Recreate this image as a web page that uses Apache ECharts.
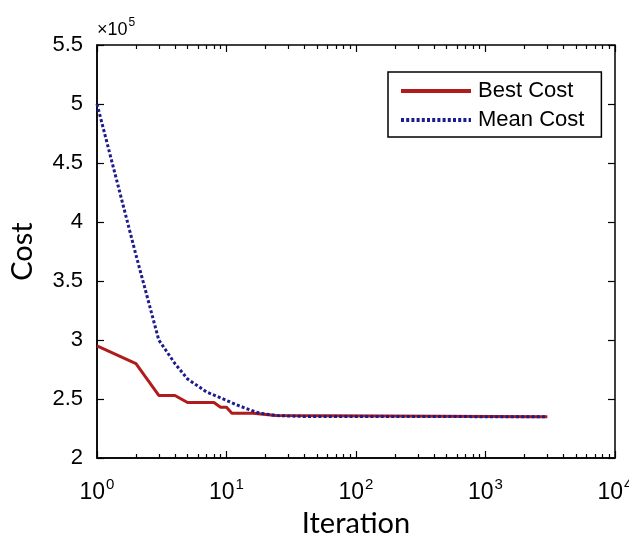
<!DOCTYPE html>
<html>
<head>
<meta charset="utf-8">
<script src="https://cdn.jsdelivr.net/npm/echarts@6/dist/echarts.min.js"></script>
<style>
  html, body { margin: 0; padding: 0; background: #fff; }
  #chart { width: 629px; height: 534px; }
</style>
</head>
<body>
<div id="chart"></div>
<script>
// iterations (x) and costs (y)
let bestIter = [1, 2, 3, 4, 5, 8, 9, 10, 11, 16, 24, 3000];
let bestCost = [295000, 280000, 253000, 253000, 247000, 247000, 243000, 243000, 238000, 238000, 236000, 235000];
let meanIter = [1, 2, 3, 4, 5, 7, 9, 12, 15, 18, 24, 40, 3000];
let meanCost = [500000, 372000, 300000, 280000, 267000, 256000, 251000, 245000, 241000, 238000, 236000, 235200, 235000];
let yTicks = [200000, 250000, 300000, 350000, 400000, 450000, 500000, 550000];
let xMajor = [1, 10, 100, 1000, 10000];

// minor ticks of the log axis: 2..9 in every decade
let xMinor = [];
for (let d = 0; d < 4; d++) {
  for (let k = 2; k <= 9; k++) xMinor.push(k * Math.pow(10, d));
}

let pairs = (xs, ys) => xs.map((x, i) => [x, ys[i]]);

let chart = echarts.init(document.getElementById("chart"));
let axisFont = "Liberation Sans, Arial, sans-serif";
let nameFont = "Lato, sans-serif";

// a bare log x axis used only for tick marks (top side and minor ticks)
function tickAxis(position, values, len) {
  return {
    type: "log",
    logBase: 10,
    min: 1,
    max: 10000,
    position: position,
    axisLine: { show: false },
    axisLabel: { show: false },
    splitLine: { show: false },
    axisTick: { show: true, inside: true, length: len, customValues: values, lineStyle: { color: "#000", width: 1.2 } }
  };
}

let option = {
  animation: false,
  grid: {
    left: 97,
    right: 14,
    top: 45,
    bottom: 76,
    outerBoundsMode: "none",
    containLabel: false,
    show: true,
    borderColor: "#000",
    borderWidth: 1.5
  },
  legend: {
    orient: "vertical",
    left: 388,
    top: 72,
    padding: [8, 17, 6, 11],
    itemGap: 7,
    itemWidth: 70,
    itemHeight: 16,
    borderColor: "#000",
    borderWidth: 1.5,
    itemStyle: { opacity: 0 },
    lineStyle: { width: 4 },
    textStyle: { fontFamily: axisFont, fontSize: 22, color: "#000", padding: [0, 0, 0, 2] },
    data: ["Best Cost", "Mean Cost"]
  },
  graphic: [
    {
      type: "text",
      left: 97,
      top: 17,
      style: {
        text: "{b|×10}{s|5}",
        rich: {
          b: { fontFamily: axisFont, fontSize: 18, fill: "#000" },
          s: { fontFamily: axisFont, fontSize: 12, fill: "#000", padding: [0, 0, 14, 1] }
        }
      }
    }
  ],
  xAxis: [
    {
      type: "log",
      logBase: 10,
      min: 1,
      max: 10000,
      position: "bottom",
      name: "Iteration",
      nameLocation: "middle",
      nameGap: 47,
      nameTextStyle: { fontFamily: nameFont, fontSize: 29, color: "#000" },
      axisLine: { lineStyle: { color: "#000", width: 1.5 } },
      axisTick: { inside: true, length: 7, customValues: xMajor, lineStyle: { color: "#000", width: 1.2 } },
      splitLine: { show: false },
      axisLabel: {
        margin: 19,
        customValues: xMajor,
        formatter: function (v) {
          return "{b|10}{s|" + Math.round(Math.log10(v)) + "}";
        },
        rich: {
          b: { fontFamily: axisFont, fontSize: 23, color: "#000" },
          s: { fontFamily: axisFont, fontSize: 15, color: "#000", padding: [0, 0, 16, 1] }
        }
      }
    },
    tickAxis("bottom", xMinor, 4),
    tickAxis("top", xMajor, 7),
    tickAxis("top", xMinor, 4)
  ],
  yAxis: [
    {
      type: "value",
      min: 200000,
      max: 550000,
      interval: 50000,
      name: "Cost",
      nameLocation: "middle",
      nameGap: 60,
      nameTextStyle: { fontFamily: nameFont, fontSize: 29, color: "#000" },
      axisLine: { show: true, lineStyle: { color: "#000", width: 1.5 } },
      axisTick: { show: true, inside: true, length: 7, lineStyle: { color: "#000", width: 1.2 } },
      splitLine: { show: false },
      axisLabel: {
        margin: 14,
        fontFamily: axisFont,
        fontSize: 22,
        color: "#000",
        customValues: yTicks,
        formatter: v => String(v / 100000)
      }
    },
    {
      type: "value",
      min: 200000,
      max: 550000,
      interval: 50000,
      position: "right",
      axisLine: { show: false },
      axisLabel: { show: false },
      splitLine: { show: false },
      axisTick: { show: true, inside: true, length: 7, lineStyle: { color: "#000", width: 1.2 } }
    }
  ],
  series: [
    {
      name: "Best Cost",
      type: "line",
      data: pairs(bestIter, bestCost),
      showSymbol: false,
      symbol: "none",
      itemStyle: { color: "#b01c1c" },
      lineStyle: { color: "#b01c1c", width: 3 }
    },
    {
      name: "Mean Cost",
      type: "line",
      data: pairs(meanIter, meanCost),
      showSymbol: false,
      symbol: "none",
      itemStyle: { color: "#1c1c8c" },
      lineStyle: { color: "#1c1c8c", width: 3, type: [3, 2.2] }
    }
  ]
};
chart.setOption(option);
</script>
</body>
</html>
